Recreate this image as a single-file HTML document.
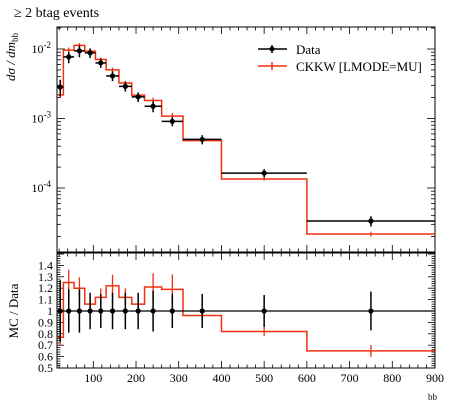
<!DOCTYPE html>
<html><head><meta charset="utf-8"><style>
body{margin:0;background:#fff;}
svg{display:block;font-family:"Liberation Serif",serif;}
</style></head><body>
<svg id="c" width="450" height="406">
<text x="14" y="17" font-size="14">≥ 2 btag events</text>
<text transform="translate(15,57) rotate(-90)" font-size="13" font-style="italic" text-anchor="middle">dσ / dm<tspan font-size="9" font-style="normal" dy="3">bb</tspan></text>
<text transform="translate(18,311) rotate(-90)" font-size="13" text-anchor="middle">MC / Data</text>
<text x="428" y="400" font-size="9">bb</text>
<g id="legend">
<line x1="258" y1="49" x2="287" y2="49" stroke="#000" stroke-width="1.5"/><line x1="272" y1="45" x2="272" y2="53" stroke="#000" stroke-width="1.5"/><circle cx="272" cy="49" r="2.5"/>
<text x="296" y="54" font-size="13">Data</text>
<line x1="258" y1="66" x2="287" y2="66" stroke="#f03010" stroke-width="1.5"/><line x1="272" y1="62" x2="272" y2="70" stroke="#f03010" stroke-width="1.5"/>
<text x="296" y="71" font-size="13">CKKW [LMODE=MU]</text>
</g>
</svg>
<script>
const edges=[15,30,55,80,105,130,160,190,220,260,310,400,600,900];
const centers=[22.5,42.5,67.5,92.5,117.5,145,175,205,240,285,355,500,750];
const dataVals=[2.84e-3,7.7e-3,9.4e-3,8.8e-3,6.3e-3,4.1e-3,2.9e-3,2.05e-3,1.5e-3,9.1e-4,5.0e-4,1.64e-4,3.35e-5];
const dataRelErr=[0.27,0.19,0.19,0.16,0.15,0.16,0.16,0.16,0.18,0.15,0.15,0.14,0.17];
const ratioVals=[0.77,1.25,1.2,1.06,1.12,1.22,1.12,1.06,1.21,1.19,0.96,0.82,0.65];
const mcRelErr=[0.1,0.09,0.08,0.05,0.07,0.08,0.07,0.04,0.1,0.11,0.04,0.05,0.08];
const xTicks=[100,200,300,400,500,600,700,800,900];
const rTicks=[0.5,0.6,0.7,0.8,0.9,1,1.1,1.2,1.3,1.4];
const rTickLabels=["0.5","0.6","0.7","0.8","0.9","1","1.1","1.2","1.3","1.4"];
const L=57,R=435,T=27,B=252,RT=253,RB=368;
const X=v=>L+(v-15)/(900-15)*(R-L);
const Y=v=>49-(Math.log10(v)+2)*69.5;
const YR=v=>311-(v-1)*114;
const svg=document.getElementById('c');
const NS='http://www.w3.org/2000/svg';
function mk(t,a,p){const e=document.createElementNS(NS,t);for(const k in a)e.setAttribute(k,a[k]);(p||svg).appendChild(e);return e;}
const f1=mk('rect',{x:L,y:T,width:R-L,height:B-T,fill:'none',stroke:'#000','stroke-width':1});


const f2=mk('rect',{x:L,y:RT,width:R-L,height:RB-RT,fill:'none',stroke:'#000','stroke-width':1});


const ax=mk('g',{stroke:'#000','stroke-width':0.8});


for(let v=20;v<=900;v+=20){const x=X(v);const maj=v%100==0;const l=maj?7:3.5;
 [[T,T+l],[B,B-l],[RT,RT+l],[RB,RB-l]].forEach(p=>mk('line',{x1:x,x2:x,y1:p[0],y2:p[1]},ax));}
xTicks.forEach(v=>{const t=mk('text',{x:X(v),y:RB+14,'font-size':12,'text-anchor':'middle'});t.textContent=v;

});
for(let d=-5;d<=-2;d++){for(let m=1;m<10;m++){const v=m*Math.pow(10,d);const y=Y(v);if(y<T||y>B)continue;const l=m==1?8:4;
 mk('line',{x1:L,x2:L+l,y1:y,y2:y},ax);mk('line',{x1:R,x2:R-l,y1:y,y2:y},ax);}}
[-2,-3,-4].forEach(d=>{const t=mk('text',{x:L-6,y:Y(Math.pow(10,d))+4,'font-size':12,'text-anchor':'end'});t.innerHTML='10<tspan font-size="9" dy="-5">'+d+'</tspan>';

});
for(let v=0.5;v<=1.5001;v+=0.02){const y=YR(v);const maj=Math.abs(v*10-Math.round(v*10))<1e-6;const l=maj?7:3.5;
 mk('line',{x1:L,x2:L+l,y1:y,y2:y},ax);mk('line',{x1:R,x2:R-l,y1:y,y2:y},ax);}
rTicks.forEach((v,i)=>{const t=mk('text',{x:L-4,y:YR(v)+4,'font-size':12,'text-anchor':'end'});t.textContent=rTickLabels[i];

});
const mcVals=dataVals.map((d,i)=>d*ratioVals[i]);
function step(vals,fy){let d='';vals.forEach((v,i)=>{d+=(i?'L':'M')+X(edges[i])+','+fy(v)+'L'+X(edges[i+1])+','+fy(v);});return d;}
const mcLine=mk('path',{d:step(mcVals,Y),fill:'none',stroke:'#f03010','stroke-width':1.5});


const mcR=mk('path',{d:step(ratioVals,YR),fill:'none',stroke:'#f03010','stroke-width':1.5});


const refLine=mk('line',{x1:L,x2:R,y1:YR(1),y2:YR(1),stroke:'#000','stroke-width':1.2});


centers.forEach((c,i)=>{
 const x=X(c);
 const g=mk('g',{stroke:'#f03010','stroke-width':1.3});
 
 
 mk('line',{x1:x,x2:x,y1:Y(mcVals[i]*(1-mcRelErr[i])),y2:Y(mcVals[i]*(1+mcRelErr[i]))},g);
 mk('line',{x1:x,x2:x,y1:YR(ratioVals[i]*(1-mcRelErr[i])),y2:YR(ratioVals[i]*(1+mcRelErr[i]))},g);
 const d=mk('g',{stroke:'#000','stroke-width':1.5});
 
 
 mk('line',{x1:X(edges[i]),x2:X(edges[i+1]),y1:Y(dataVals[i]),y2:Y(dataVals[i])},d);
 mk('line',{x1:x,x2:x,y1:Y(dataVals[i]*(1-dataRelErr[i])),y2:Y(dataVals[i]*(1+dataRelErr[i]))},d);
 mk('circle',{cx:x,cy:Y(dataVals[i]),r:2.6,fill:'#000',stroke:'none'},d);
 mk('line',{x1:x,x2:x,y1:YR(1-dataRelErr[i]),y2:YR(1+dataRelErr[i])},d);
 mk('circle',{cx:x,cy:YR(1),r:2.6,fill:'#000',stroke:'none'},d);
});
</script>
</body></html>
